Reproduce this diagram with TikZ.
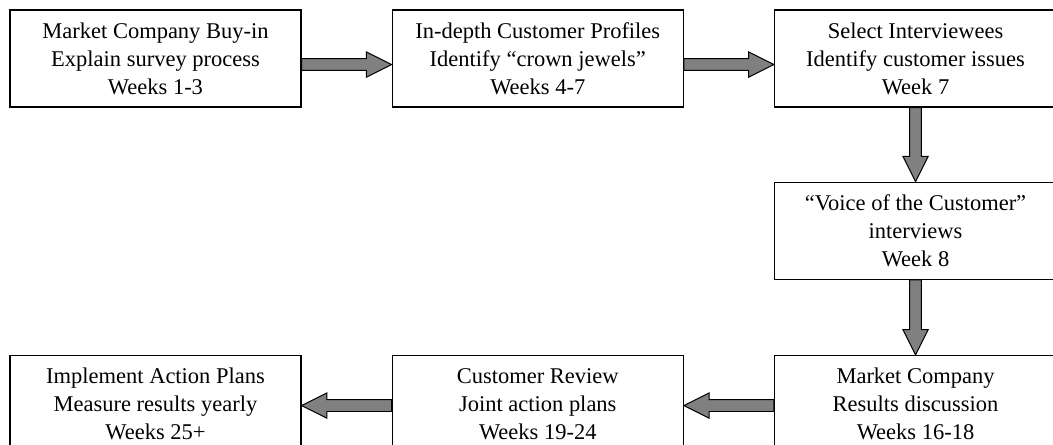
\documentclass[tikz,border=0pt]{standalone}
\usepackage{fontspec}
\setmainfont{Liberation Serif}
\usepackage{xcolor}
\usetikzlibrary{positioning,calc}

\definecolor{arrowgray}{HTML}{808080}

% block arrow from #1 to #2 (shaft 4.2pt half width, head 9pt half width, 18pt long)
\newcommand{\fatarrow}[2]{%
  \draw[fatarr] let \p1=(#1), \p2=(#2),
      \n1={atan2(\y2-\y1,\x2-\x1)}, \n2={veclen(\x2-\x1,\y2-\y1)} in
    ([shift={(\p1)},rotate=\n1]0pt,4.2pt)
    -- ([shift={(\p1)},rotate=\n1]{\n2*1pt-18pt},4.2pt)
    -- ([shift={(\p1)},rotate=\n1]{\n2*1pt-18pt},9pt)
    -- ([shift={(\p1)},rotate=\n1]{\n2*1pt},0pt)
    -- ([shift={(\p1)},rotate=\n1]{\n2*1pt-18pt},-9pt)
    -- ([shift={(\p1)},rotate=\n1]{\n2*1pt-18pt},-4.2pt)
    -- ([shift={(\p1)},rotate=\n1]0pt,-4.2pt) -- cycle;}

\begin{document}
\begin{tikzpicture}[
  stage/.style={rectangle, draw, line width=0.9pt, minimum width=7.275cm,
    minimum height=2.425cm, fill=white, align=center,
    font=\fontsize{16}{20}\selectfont},
  lastcol/.style={minimum width=7.05cm},
  fatarr/.style={draw, line width=0.7pt, fill=arrowgray, line join=miter}
]
  \useasboundingbox (0,0) rectangle (26.325,-11.1);
  \clip (0,0) rectangle (26.325,-11.1);

  \node[stage] (buyin) at (3.8875,-1.4625) {Market Company Buy-in\\Explain survey process\\Weeks 1-3};
  \node[stage, right=2.25cm of buyin] (profiles) {In-depth Customer Profiles\\Identify ``crown jewels''\\Weeks 4-7};
  \node[stage, lastcol, right=2.25cm of profiles] (select) {Select Interviewees\\Identify customer issues\\Week 7};
  \node[stage, lastcol, below=1.85cm of select] (voice) {``Voice of the Customer''\\interviews\\Week 8};
  \node[stage, lastcol, below=1.875cm of voice] (results) {Market Company\\Results discussion\\Weeks 16-18};
  \node[stage, left=2.25cm of results] (review) {Customer Review\\Joint action plans\\Weeks 19-24};
  \node[stage, left=2.25cm of review] (implement) {Implement Action Plans\\Measure results yearly\\Weeks 25+};

  \fatarrow{[yshift=-4.3pt]buyin.east}{[yshift=-4.3pt]profiles.west}
  \fatarrow{[yshift=-4.3pt]profiles.east}{[yshift=-4.3pt]select.west}
  \fatarrow{select.south}{voice.north}
  \fatarrow{voice.south}{results.north}
  \fatarrow{[yshift=-1.1pt]results.west}{[yshift=-1.1pt]review.east}
  \fatarrow{[yshift=-1.1pt]review.west}{[yshift=-1.1pt]implement.east}
\end{tikzpicture}
\end{document}
